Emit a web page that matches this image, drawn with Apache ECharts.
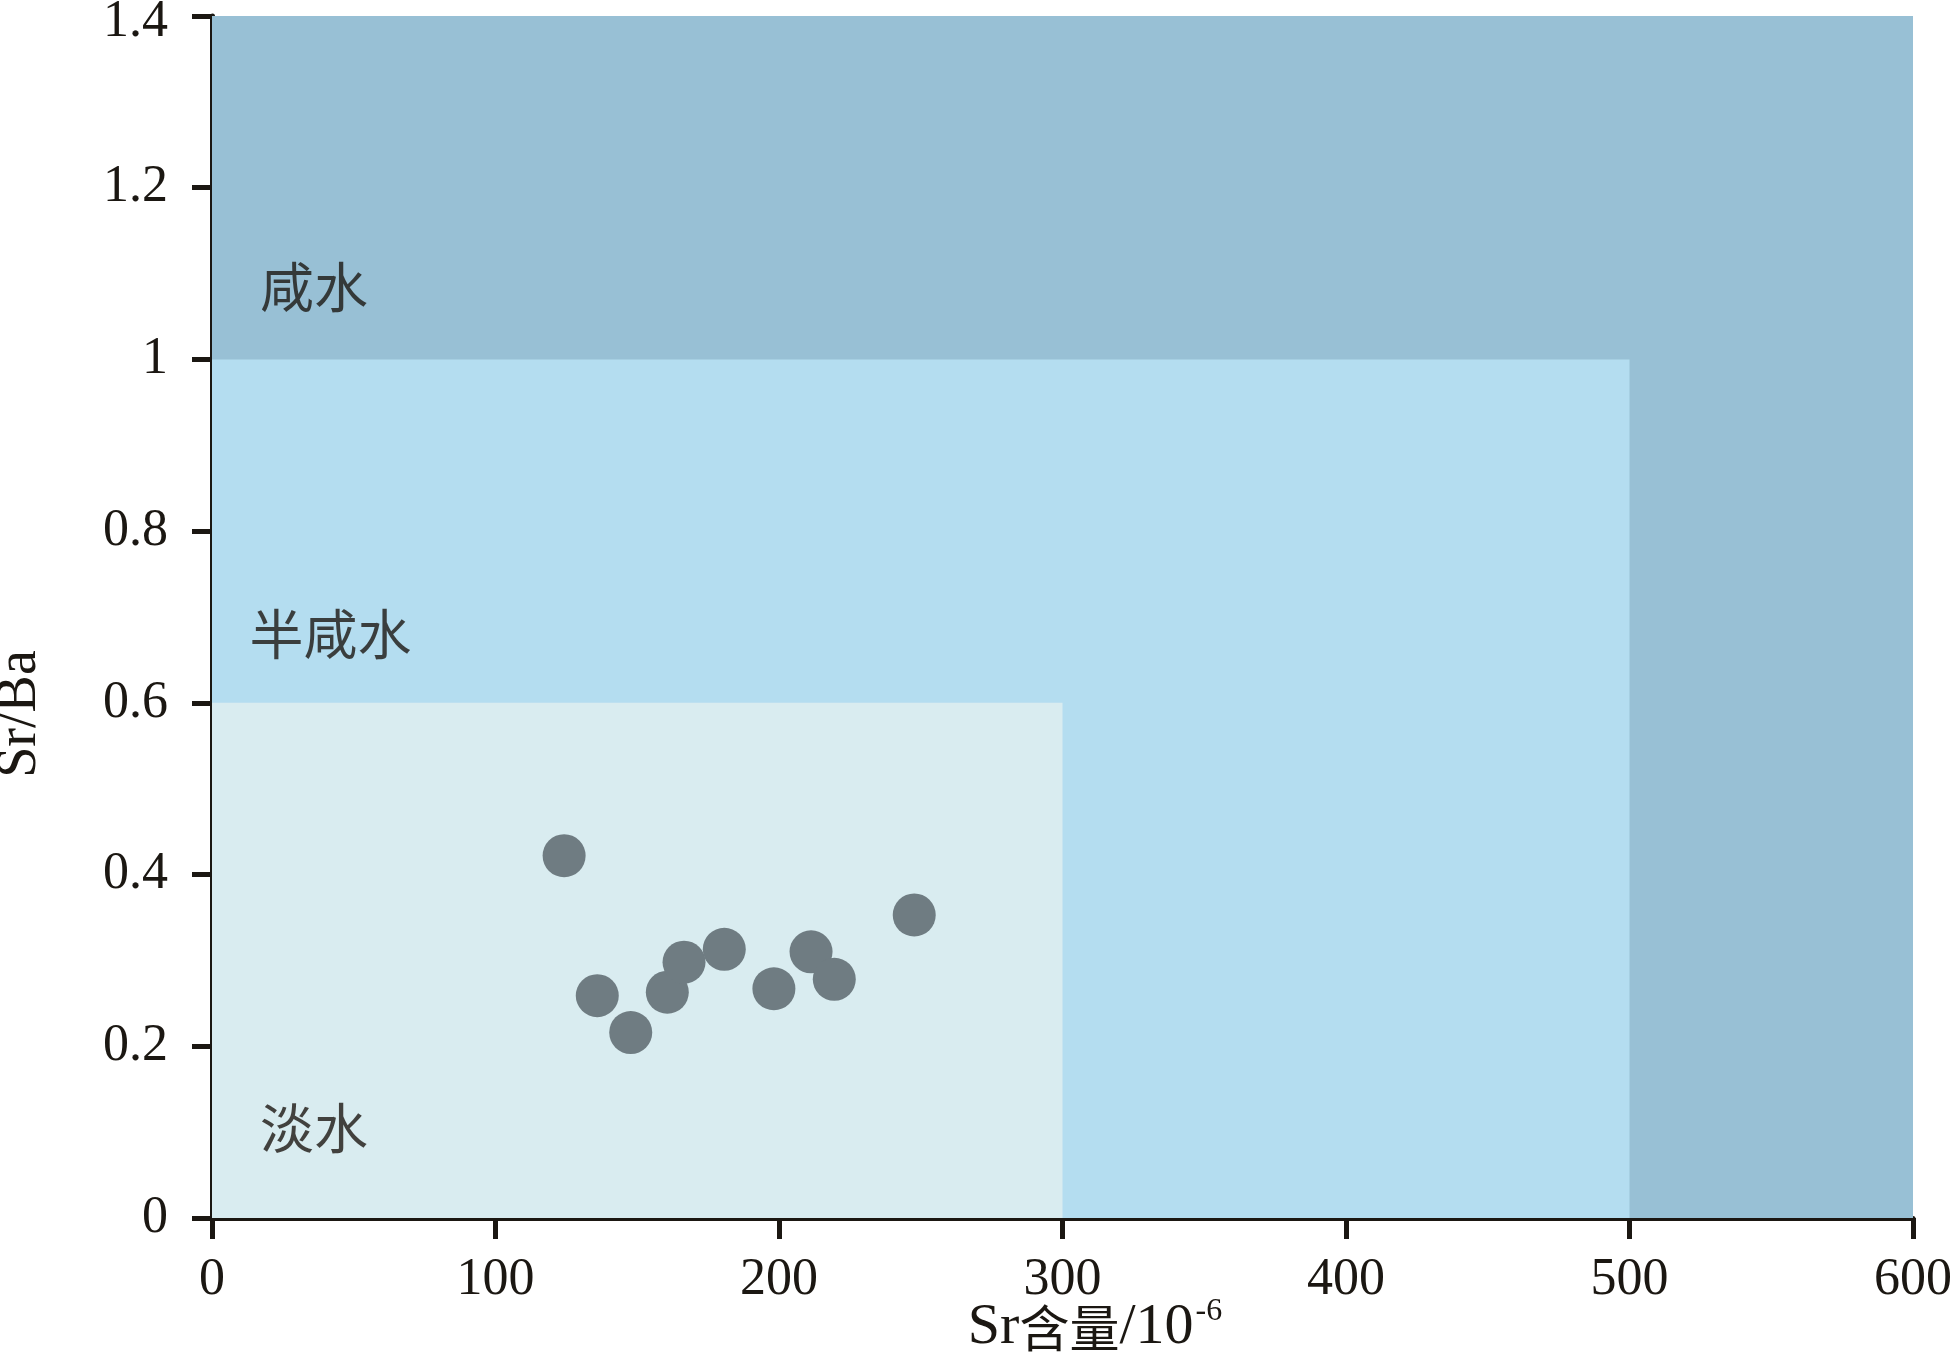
<!DOCTYPE html>
<html>
<head>
<meta charset="utf-8">
<script src="https://cdn.jsdelivr.net/npm/echarts@6/dist/echarts.min.js"></script>
<style>
html,body{margin:0;padding:0;background:#fff;}
#chart{width:1956px;height:1368px;}
</style>
</head>
<body>
<div id="chart"></div>
<script>
// Sample points: Sr content (10^-6) and Sr/Ba ratio
const srContent = [124.2, 135.9, 147.7, 160.6, 166.5, 180.7, 198.2, 211.3, 219.5, 247.7];
const srBaRatio = [0.422, 0.259, 0.216, 0.263, 0.298, 0.313, 0.267, 0.310, 0.278, 0.353];

// Salinity zones (upper bounds, from axis origin)
const zoneNames = ['咸水', '半咸水', '淡水'];
const zoneSrMax = [600, 500, 300];
const zoneRatioMax = [1.4, 1.0, 0.6];
const zoneColors = ['#98C0D5', '#B4DDF0', '#D9ECF0'];

// Zone label anchors (data coordinates)
const zoneLabelSr = [36, 41.8, 36];
const zoneLabelRatio = [1.084, 0.680, 0.104];

// Axis ticks
const xTicks = [0, 100, 200, 300, 400, 500, 600];
const yTicks = [0, 0.2, 0.4, 0.6, 0.8, 1, 1.2, 1.4];

const axisColor = '#1b1712';
const chart = echarts.init(document.getElementById('chart'));

const points = srContent.map((x, i) => [x, srBaRatio[i]]);
const areas = zoneNames.map((n, i) => [
  { xAxis: 0, yAxis: 0, itemStyle: { color: zoneColors[i], opacity: 1 } },
  { xAxis: zoneSrMax[i], yAxis: zoneRatioMax[i] }
]);
const zoneLabels = zoneNames.map((n, i) => ({ name: n, value: [zoneLabelSr[i], zoneLabelRatio[i]] }));
const yMax = yTicks[yTicks.length - 1];

chart.setOption({
  animation: false,
  backgroundColor: '#ffffff',
  grid: { left: 212, right: 43, top: 16, bottom: 150, containLabel: false, outerBoundsMode: 'none' },
  xAxis: {
    type: 'value',
    min: xTicks[0], max: xTicks[xTicks.length - 1], interval: 100,
    splitLine: { show: false },
    axisLine: { show: true, onZero: false, lineStyle: { color: axisColor, width: 5 } },
    axisTick: { show: true, inside: false, length: 21, lineStyle: { color: axisColor, width: 5 } },
    axisLabel: { margin: 36, color: axisColor, fontFamily: 'Liberation Serif', fontSize: 52 }
  },
  yAxis: {
    type: 'value',
    min: yTicks[0], max: yMax, interval: 0.2,
    splitLine: { show: false },
    axisLine: { show: true, onZero: false, lineStyle: { color: axisColor, width: 5 } },
    axisTick: { show: true, inside: false, length: 20, lineStyle: { color: axisColor, width: 5 } },
    axisLabel: {
      margin: 44, color: axisColor, fontFamily: 'Liberation Serif', fontSize: 52,
      formatter: v => {
        const s = String(Math.round(v * 10) / 10);
        return Math.abs(v - yMax) < 1e-9 ? '{t|' + s + '}' : s;
      },
      rich: {
        t: { fontFamily: 'Liberation Serif', fontSize: 52, color: axisColor, padding: [12, 0, 0, 0] }
      }
    }
  },
  graphic: [
    {
      type: 'text',
      x: 20, y: 714, rotation: Math.PI / 2,
      style: {
        text: 'Sr/Ba', fill: axisColor, font: '56px "Liberation Serif"',
        align: 'center', verticalAlign: 'middle'
      }
    },
    {
      type: 'text',
      x: 1095, y: 1328,
      style: {
        text: '{s|Sr}{c|含量}{s|/10}{p|-6}',
        align: 'center', verticalAlign: 'middle',
        rich: {
          s: { fontFamily: 'Liberation Serif', fontSize: 58, fill: axisColor, color: axisColor },
          c: { fontFamily: 'Noto Sans CJK SC', fontSize: 50, fill: axisColor, color: axisColor },
          p: { fontFamily: 'Liberation Serif', fontSize: 32, fill: axisColor, color: axisColor, padding: [0, 0, 32, 2] }
        }
      }
    }
  ],
  series: [
    {
      type: 'scatter',
      data: [],
      silent: true,
      z: 1,
      markArea: { silent: true, data: areas, label: { show: false } }
    },
    {
      type: 'scatter',
      data: points,
      symbol: 'circle',
      symbolSize: 43,
      itemStyle: { color: '#6F7C82', opacity: 1 },
      z: 3
    },
    {
      type: 'scatter',
      data: zoneLabels,
      symbolSize: 0,
      z: 4,
      label: {
        show: true, position: 'inside',
        formatter: p => p.name,
        color: '#1b1712', fontFamily: 'Noto Sans CJK SC', fontSize: 54
      }
    }
  ]
});
</script>
</body>
</html>
